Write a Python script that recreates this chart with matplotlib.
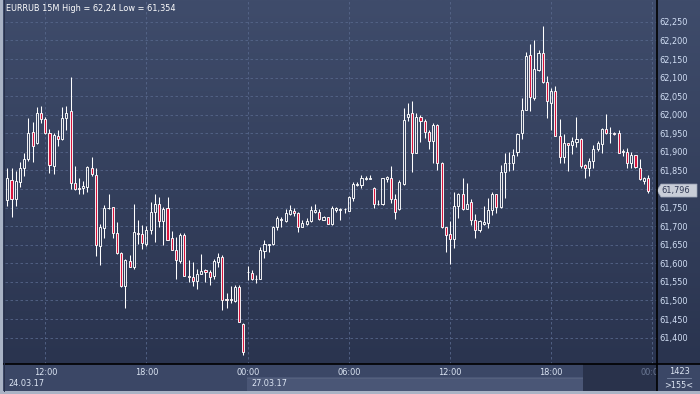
import numpy as np
import pandas as pd
import matplotlib
matplotlib.use("Agg")
import matplotlib.pyplot as plt
from matplotlib.patches import Rectangle, Polygon
from matplotlib.lines import Line2D

# EURRUB 15M, 24.03.17 09:30 .. 27.03.17 23:45
opens = [
    61.745, 61.770, 61.824, 61.772, 61.820, 61.858, 61.880, 61.953, 61.923, 62.004,
    61.988, 61.950, 61.863, 61.942, 61.934, 61.990, 62.009, 61.815, 61.804, 61.804,
    61.806, 61.858, 61.839, 61.646, 61.694, 61.748, 61.751, 61.681, 61.628, 61.539,
    61.607, 61.589, 61.683, 61.678, 61.652, 61.691, 61.739, 61.761, 61.715, 61.748,
    61.667, 61.637, 61.606, 61.676, 61.566, 61.562, 61.552, 61.571, 61.582, 61.577,
    61.567, 61.604, 61.616, 61.504, 61.502, 61.499, 61.537, 61.438, 61.576, 61.575,
    61.558, 61.559, 61.634, 61.649, 61.651, 61.698, 61.717, 61.715, 61.733, 61.741,
    61.735, 61.698, 61.705, 61.715, 61.739, 61.739, 61.718, 61.724, 61.705, 61.744,
    61.744, 61.745, 61.742, 61.777, 61.810, 61.811, 61.827, 61.828, 61.804, 61.759,
    61.760, 61.828, 61.830, 61.772, 61.745, 61.813, 61.993, 62.004, 61.898, 61.993,
    61.982, 61.953, 61.930, 61.972, 61.869, 61.697, 61.678, 61.666, 61.754, 61.788,
    61.747, 61.764, 61.718, 61.689, 61.707, 61.709, 61.743, 61.786, 61.752, 61.845,
    61.869, 61.869, 61.901, 61.950, 62.014, 62.161, 62.044, 62.120, 62.165, 62.087,
    62.033, 62.064, 61.943, 61.887, 61.923, 61.918, 61.927, 61.936, 61.865, 61.856,
    61.875, 61.907, 61.921, 61.962, 61.950, 61.950, 61.950, 61.899, 61.900, 61.869,
    61.891, 61.856, 61.822, 61.829,
]
highs = [
    61.770, 61.858, 61.856, 61.849, 61.872, 61.896, 61.990, 61.980, 62.022, 62.024,
    61.995, 61.961, 61.952, 61.959, 62.022, 62.024, 62.103, 61.862, 61.831, 61.821,
    61.862, 61.885, 61.856, 61.706, 61.757, 61.788, 61.752, 61.712, 61.631, 61.613,
    61.622, 61.760, 61.716, 61.703, 61.700, 61.766, 61.788, 61.779, 61.752, 61.779,
    61.686, 61.670, 61.683, 61.683, 61.609, 61.603, 61.586, 61.625, 61.586, 61.582,
    61.613, 61.627, 61.622, 61.519, 61.539, 61.541, 61.541, 61.440, 61.593, 61.582,
    61.568, 61.643, 61.664, 61.653, 61.700, 61.727, 61.724, 61.745, 61.757, 61.748,
    61.739, 61.717, 61.721, 61.754, 61.760, 61.745, 61.727, 61.726, 61.754, 61.753,
    61.748, 61.750, 61.781, 61.818, 61.818, 61.838, 61.835, 61.839, 61.805, 61.770,
    61.830, 61.835, 61.862, 61.788, 61.824, 62.017, 62.032, 62.037, 62.006, 61.999,
    61.988, 61.959, 61.977, 61.974, 61.874, 61.698, 61.714, 61.791, 61.790, 61.831,
    61.815, 61.773, 61.734, 61.716, 61.754, 61.777, 61.791, 61.788, 61.865, 61.896,
    61.899, 61.909, 61.952, 62.044, 62.170, 62.190, 62.201, 62.174, 62.240, 62.104,
    62.071, 62.077, 61.988, 61.948, 61.925, 61.941, 61.995, 61.938, 61.867, 61.884,
    61.918, 61.929, 61.965, 62.002, 61.966, 61.954, 61.959, 61.908, 61.911, 61.899,
    61.893, 61.881, 61.833, 61.838,
]
lows = [
    61.743, 61.754, 61.725, 61.754, 61.806, 61.835, 61.876, 61.874, 61.921, 61.977,
    61.948, 61.844, 61.840, 61.917, 61.932, 61.959, 61.799, 61.797, 61.786, 61.788,
    61.793, 61.835, 61.619, 61.595, 61.667, 61.747, 61.667, 61.624, 61.537, 61.480,
    61.589, 61.584, 61.652, 61.639, 61.646, 61.679, 61.657, 61.697, 61.650, 61.663,
    61.636, 61.558, 61.602, 61.566, 61.550, 61.539, 61.531, 61.570, 61.550, 61.541,
    61.559, 61.589, 61.474, 61.479, 61.492, 61.497, 61.442, 61.354, 61.555, 61.555,
    61.548, 61.558, 61.615, 61.631, 61.649, 61.691, 61.698, 61.712, 61.730, 61.727,
    61.685, 61.697, 61.703, 61.712, 61.735, 61.718, 61.717, 61.705, 61.703, 61.737,
    61.718, 61.736, 61.741, 61.768, 61.808, 61.804, 61.824, 61.828, 61.750, 61.757,
    61.757, 61.820, 61.763, 61.719, 61.743, 61.811, 61.984, 61.847, 61.896, 61.926,
    61.938, 61.908, 61.871, 61.851, 61.696, 61.631, 61.598, 61.642, 61.721, 61.743,
    61.745, 61.702, 61.669, 61.685, 61.703, 61.694, 61.730, 61.736, 61.750, 61.777,
    61.848, 61.851, 61.889, 61.934, 62.013, 62.011, 62.040, 62.119, 62.086, 61.992,
    61.959, 61.943, 61.871, 61.871, 61.849, 61.894, 61.914, 61.856, 61.830, 61.836,
    61.857, 61.902, 61.896, 61.947, 61.923, 61.945, 61.896, 61.889, 61.856, 61.858,
    61.856, 61.824, 61.813, 61.790,
]
closes = [
    61.766, 61.829, 61.772, 61.821, 61.856, 61.880, 61.950, 61.917, 62.004, 61.988,
    61.950, 61.866, 61.945, 61.936, 61.990, 62.006, 61.815, 61.800, 61.800, 61.808,
    61.860, 61.840, 61.649, 61.697, 61.748, 61.750, 61.681, 61.627, 61.539, 61.610,
    61.591, 61.685, 61.678, 61.654, 61.691, 61.737, 61.761, 61.715, 61.745, 61.664,
    61.637, 61.610, 61.676, 61.567, 61.562, 61.552, 61.570, 61.580, 61.576, 61.564,
    61.607, 61.616, 61.501, 61.500, 61.503, 61.537, 61.443, 61.362, 61.577, 61.557,
    61.559, 61.636, 61.651, 61.652, 61.697, 61.721, 61.719, 61.736, 61.744, 61.735,
    61.698, 61.708, 61.715, 61.744, 61.744, 61.719, 61.724, 61.706, 61.748, 61.748,
    61.745, 61.746, 61.778, 61.813, 61.813, 61.829, 61.830, 61.831, 61.761, 61.761,
    61.829, 61.833, 61.772, 61.737, 61.818, 61.986, 62.002, 61.896, 61.993, 61.984,
    61.954, 61.930, 61.973, 61.871, 61.697, 61.675, 61.666, 61.754, 61.788, 61.747,
    61.761, 61.718, 61.689, 61.714, 61.711, 61.743, 61.786, 61.752, 61.845, 61.869,
    61.870, 61.893, 61.948, 62.014, 62.158, 62.047, 62.122, 62.165, 62.087, 62.037,
    62.064, 61.944, 61.887, 61.923, 61.918, 61.930, 61.935, 61.863, 61.856, 61.875,
    61.908, 61.923, 61.962, 61.950, 61.951, 61.947, 61.898, 61.902, 61.869, 61.893,
    61.860, 61.826, 61.829, 61.796,
]

title = "EURRUB 15M High = 62,24 Low = 61,354"
price_ticks = [61.40, 61.45, 61.50, 61.55, 61.60, 61.65, 61.70, 61.75, 61.80,
               61.85, 61.90, 61.95, 62.00, 62.05, 62.10, 62.15, 62.20, 62.25]
counter_text = "1423"
bars_text = ">155<"

# bar times (weekend skipped)
times = pd.DatetimeIndex(
    list(pd.date_range("2017-03-24 09:30", "2017-03-24 23:45", freq="15min"))
    + list(pd.date_range("2017-03-27 00:00", "2017-03-28 00:00", freq="15min"))
)

# colours
BG_TOP = np.array([63, 76, 107]) / 255
BG_BOT = np.array([42, 52, 79]) / 255
GRID = "#56668a"
RED = "#d8143c"
TXT = "#dde6f4"
FS = 5.9

W, H = 700, 394
def fx(px):
    return px / W
def fy(py):
    return 1 - py / H

fig = plt.figure(figsize=(7, 3.94), dpi=100)
fig.patch.set_facecolor("#3b4766")

# gradient background for chart + price panel
bg = fig.add_axes([0, fy(364), 1, 364 / H])
grad = np.linspace(0, 1, 256)[:, None, None]
img = BG_TOP * (1 - grad) + BG_BOT * grad
bg.imshow(img, aspect="auto", extent=[0, 1, 0, 1])
bg.axis("off")

ax = fig.add_axes([fx(5), fy(364), fx(652), 364 / H])
ax.patch.set_alpha(0)
ax.set_xlim(0.45, 155.1)
ax.set_ylim(61.329, 62.309)

n = len(closes)
for i in range(n):
    o, h, l, c = opens[i], highs[i], lows[i], closes[i]
    top, bot = max(o, c), min(o, c)
    ax.vlines(i, top, h, color="white", lw=0.75, zorder=3)
    ax.vlines(i, l, bot, color="white", lw=0.75, zorder=3)
    ax.add_patch(Rectangle((i - 0.25, bot), 0.5, max(top - bot, 0.0005),
                           facecolor=RED if c < o else "none",
                           edgecolor="white", lw=0.65, zorder=4))

# ticks / grid
is_tick = (times.minute == 0) & (times.hour % 6 == 0)
tick_idx = np.where(is_tick)[0]
ax.set_xticks(tick_idx)
ax.set_yticks(price_ticks)
ax.grid(True, color=GRID, ls=(0, (3, 3)), lw=0.6)
ax.set_axisbelow(True)
ax.yaxis.tick_right()
last = closes[-1]
# the label under the last-price marker is hidden
ylabels = ["" if abs(p - last) < 0.02 else f"{p:.3f}".replace(".", ",") for p in price_ticks]
ax.set_yticklabels(ylabels)
ax.tick_params(axis="y", length=0, pad=1.5, labelsize=FS, labelcolor="#d3e0f6")
ax.tick_params(axis="x", length=0, labelbottom=False)
for s in ax.spines.values():
    s.set_visible(False)

ax.text(0.002, 0.978, title, transform=ax.transAxes, color="white", fontsize=FS,
        ha="left", va="center")

# time axis band
fig.add_artist(Rectangle((fx(247), fy(391)), fx(336), 14 / H, transform=fig.transFigure,
                         facecolor="#4a5676", edgecolor="none", zorder=-1))
fig.add_artist(Line2D([fx(247), fx(583)], [fy(377.5), fy(377.5)], color="#56637f",
                      lw=0.6, zorder=-1))
fig.add_artist(Rectangle((fx(583), fy(391)), fx(74), 27 / H, transform=fig.transFigure,
                         facecolor="#29324b", edgecolor="none", zorder=-1))

tax = fig.add_axes([fx(5), fy(391), fx(652), 27 / H])
tax.set_zorder(2)
tax.patch.set_alpha(0)
tax.set_xlim(ax.get_xlim())
tax.set_ylim(27, 0)
tax.axis("off")
for k in tick_idx:
    col = TXT if k < n else "#6b7894"
    tax.text(k, 8.5, times[k].strftime("%H:%M"), color=col, fontsize=FS,
             ha="center", va="center", clip_on=True)
day_starts = np.where(times.normalize() != np.roll(times.normalize(), 1))[0]
day_starts = [d for d in day_starts if d < n]
for d in day_starts:
    tax.annotate(times[d].strftime("%d.%m.%y"), xy=(max(d, ax.get_xlim()[0]), 19.5),
                 xytext=(2.6, 0), textcoords="offset points", color=TXT,
                 fontsize=FS, ha="left", va="center")

# right price panel: last price marker
rax = fig.add_axes([fx(658), fy(364), fx(42), 364 / H])
rax.set_zorder(2)
rax.patch.set_alpha(0)
rax.set_ylim(ax.get_ylim())
rax.set_xlim(0, 42)
rax.axis("off")
hh = 0.0175
rax.add_patch(Polygon([(-1, last), (3, last + hh), (39, last + hh), (39, last - hh),
                       (3, last - hh)], closed=True, facecolor="#c9ced8",
                      edgecolor="#9aa3b5", lw=0.5, clip_on=False))
rax.text(3.5, last, f"{last:.3f}".replace(".", ","), color="#2e3752", fontsize=FS,
         ha="left", va="center")

# corner box
fig.text(fx(679), fy(372), counter_text, color=TXT, fontsize=FS, ha="center", va="center")
fig.add_artist(Line2D([fx(667), fx(691)], [fy(378), fy(378)], color="#7a87a3", lw=0.6))
fig.text(fx(679), fy(385), bars_text, color=TXT, fontsize=FS, ha="center", va="center")

# separators and frame
fig.add_artist(Line2D([fx(657), fx(657)], [fy(391), 1], color="black", lw=1.2, zorder=5))
fig.add_artist(Line2D([fx(4), 1], [fy(364), fy(364)], color="black", lw=1.2, zorder=5))
fig.add_artist(Rectangle((0, 0), fx(3), 1, transform=fig.transFigure,
                         facecolor="#a9b3c5", edgecolor="none", zorder=5))
fig.add_artist(Rectangle((0, 0), 1, 3 / H, transform=fig.transFigure,
                         facecolor="#a9b3c5", edgecolor="none", zorder=5))
fig.add_artist(Line2D([fx(3.5), fx(3.5)], [fy(391), 1], color="#27304a", lw=0.7, zorder=5))

fig.savefig("out.png", dpi=100)
